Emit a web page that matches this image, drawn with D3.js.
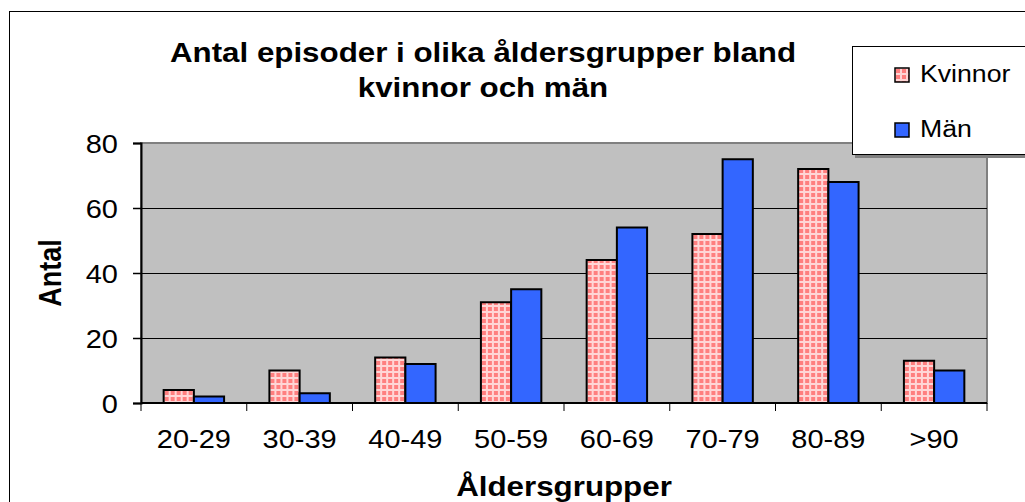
<!DOCTYPE html>
<html>
<head>
<meta charset="utf-8">
<script src="https://cdn.jsdelivr.net/npm/d3@7"></script>
<style>
  body { margin: 0; background: #fff; }
  text { font-family: "Liberation Sans", Arial, sans-serif; fill: #000; }
</style>
</head>
<body>
<div id="chart"></div>
<script>
// data
const ageGroups = ["20-29", "30-39", "40-49", "50-59", "60-69", "70-79", "80-89", ">90"];
const kvinnor = [4, 10, 14, 31, 44, 52, 72, 13];
const man = [2, 3, 12, 35, 54, 75, 68, 10];
const seriesNames = ["Kvinnor", "Män"];
const yTicks = [0, 20, 40, 60, 80];

const width = 1025, height = 502;
const plot = { left: 141, right: 987, top: 143, bottom: 403 };
const sx = 1.16; // horizontal stretch of the original picture

const svg = d3.select("#chart").append("svg")
  .attr("width", width)
  .attr("height", height);

const defs = svg.append("defs");
const pat = defs.append("pattern")
  .attr("id", "grid")
  .attr("patternUnits", "userSpaceOnUse")
  .attr("width", 6)
  .attr("height", 6);
pat.append("rect").attr("width", 6).attr("height", 6).attr("fill", "#ffd6d6");
pat.append("rect").attr("x", 1).attr("y", 1).attr("width", 4).attr("height", 4).attr("fill", "#ff7f7f");

// outer frame
svg.append("rect")
  .attr("x", 9.5).attr("y", 11.5)
  .attr("width", 1040).attr("height", 520)
  .attr("fill", "#fff").attr("stroke", "#000").attr("stroke-width", 1);

const x0 = d3.scaleBand().domain(ageGroups).range([plot.left, plot.right]);
const x = d3.scaleBand().domain(ageGroups).range([plot.left, plot.right])
  .paddingInner(1.5 / 3.5).paddingOuter(0.75 / 3.5);
const xs = d3.scaleBand().domain(seriesNames).range([0, x.bandwidth()]);
const y = d3.scaleLinear().domain([0, 80]).range([plot.bottom, plot.top]);

// plot background
svg.append("rect")
  .attr("x", plot.left).attr("y", plot.top)
  .attr("width", plot.right - plot.left).attr("height", plot.bottom - plot.top)
  .attr("fill", "#c0c0c0").attr("stroke", "#808080").attr("stroke-width", 2);

// gridlines
svg.append("g")
  .selectAll("line")
  .data(yTicks.filter(d => d > 0 && d < 80))
  .join("line")
  .attr("x1", plot.left).attr("x2", plot.right)
  .attr("y1", d => Math.round(y(d)) + 0.5).attr("y2", d => Math.round(y(d)) + 0.5)
  .attr("stroke", "#000").attr("stroke-width", 1);

// bars
const rows = ageGroups.map((g, i) => ({ group: g, values: [
  { key: "Kvinnor", value: kvinnor[i] },
  { key: "Män", value: man[i] }
] }));

svg.append("g")
  .selectAll("g")
  .data(rows)
  .join("g")
  .attr("transform", d => `translate(${x(d.group)},0)`)
  .selectAll("rect")
  .data(d => d.values)
  .join("rect")
  .attr("x", d => xs(d.key))
  .attr("y", d => y(d.value))
  .attr("width", xs.bandwidth())
  .attr("height", d => y(0) - y(d.value))
  .attr("fill", d => d.key === "Kvinnor" ? "url(#grid)" : "#3366ff")
  .attr("stroke", "#000")
  .attr("stroke-width", 2);

// y axis
const yAxis = svg.append("g")
  .attr("transform", `translate(${plot.left},0)`)
  .call(d3.axisLeft(y).tickValues(yTicks).tickSize(8).tickPadding(0).tickFormat(d3.format("d")));
yAxis.select(".domain").attr("stroke", "#000").attr("stroke-width", 2);
yAxis.selectAll(".tick line").attr("stroke", "#000").attr("stroke-width", 1.5);
yAxis.selectAll(".tick text")
  .attr("x", -23 / sx).attr("dy", "0.36em")
  .attr("transform", `scale(${sx},1)`)
  .style("font-size", "25px");

// x axis
svg.append("line")
  .attr("x1", plot.left).attr("x2", plot.right)
  .attr("y1", plot.bottom).attr("y2", plot.bottom)
  .attr("stroke", "#000").attr("stroke-width", 2);
svg.append("g")
  .selectAll("line")
  .data(ageGroups.map(g => x0(g)).concat([plot.right]))
  .join("line")
  .attr("x1", d => d).attr("x2", d => d)
  .attr("y1", plot.bottom).attr("y2", plot.bottom + 8)
  .attr("stroke", "#000").attr("stroke-width", 1);
svg.append("g")
  .selectAll("text")
  .data(ageGroups)
  .join("text")
  .attr("text-anchor", "middle")
  .attr("transform", d => `translate(${x0(d) + x0.bandwidth() / 2},448) scale(${sx},1)`)
  .style("font-size", "25px")
  .text(d => d);

// titles
const titleLines = ["Antal episoder i olika åldersgrupper bland", "kvinnor och män"];
svg.append("g")
  .selectAll("text")
  .data(titleLines)
  .join("text")
  .attr("text-anchor", "middle")
  .attr("transform", (d, i) => `translate(483,${62 + i * 35}) scale(${sx},1)`)
  .style("font-size", "27px")
  .style("font-weight", "bold")
  .text(d => d);

svg.append("text")
  .attr("text-anchor", "middle")
  .attr("transform", `translate(61,273) scale(${sx},1) rotate(-90)`)
  .style("font-size", "27px")
  .style("font-weight", "bold")
  .text("Antal");

svg.append("text")
  .attr("text-anchor", "middle")
  .attr("transform", `translate(${(plot.left + plot.right) / 2},496) scale(${sx},1)`)
  .style("font-size", "27px")
  .style("font-weight", "bold")
  .text("Åldersgrupper");

// legend
const legend = svg.append("g");
legend.append("rect")
  .attr("x", 855).attr("y", 49).attr("width", 200).attr("height", 109)
  .attr("fill", "#808080");
legend.append("rect")
  .attr("x", 852.5).attr("y", 46.5).attr("width", 200).attr("height", 108)
  .attr("fill", "#fff").attr("stroke", "#000").attr("stroke-width", 1);
const legItems = legend.selectAll("g.item")
  .data(seriesNames)
  .join("g")
  .attr("class", "item")
  .attr("transform", (d, i) => `translate(895,${68 + i * 55})`);
legItems.append("rect")
  .attr("width", 14).attr("height", 14)
  .attr("fill", d => d === "Kvinnor" ? "url(#grid)" : "#3366ff")
  .attr("stroke", "#000").attr("stroke-width", 1.5);
legItems.append("text")
  .attr("transform", `translate(25,14) scale(${sx},1)`)
  .style("font-size", "23px")
  .text(d => d);
</script>
</body>
</html>
